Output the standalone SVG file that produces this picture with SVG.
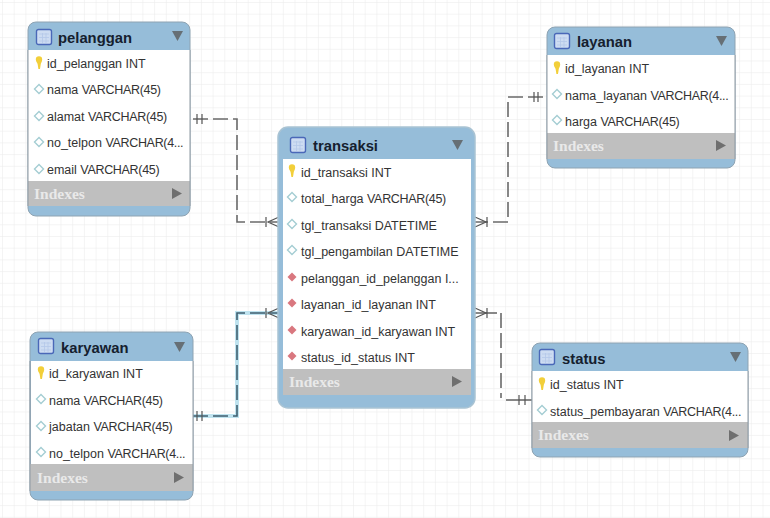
<svg xmlns="http://www.w3.org/2000/svg" width="770" height="518" viewBox="0 0 770 518">
<style>
.hd{fill:#96bdd9}
.body{fill:#fff}
.ix{fill:#bfbfbf}
.edge{fill:none;stroke:#8f9aa3;stroke-width:1}
.t{font-family:"Liberation Sans","DejaVu Sans",sans-serif;font-size:12.5px;fill:#333}
.v{letter-spacing:-.32px}
.ti{font-family:"Liberation Sans","DejaVu Sans",sans-serif;font-size:14.8px;font-weight:700;fill:#15202e}
.x{font-family:"Liberation Serif","DejaVu Serif",serif;font-size:15.5px;font-weight:700;fill:#e9e9e9}
.c{fill:none;stroke:#6a6a6a;stroke-width:1.6}
.b{stroke:#3f5f70}
.d{stroke-dasharray:15 5}
.s{fill:none;stroke:#555;stroke-width:1.2}
.g{fill:none;stroke:#bfe3ef;stroke-width:4}
</style>
<defs>
<pattern id="grid" width="11.7" height="11.7" patternUnits="userSpaceOnUse" x="2" y="2"><path d="M11.7 0H0V11.7" fill="none" stroke="#eaeaea" stroke-width="1"/></pattern>
<g id="tbl"><rect x="0.5" y="0.5" width="15" height="15" rx="2" fill="#cddcf2" stroke="#4a68b8" stroke-width="1.4"/><path d="M3 5H13M3 8.500H13M3 12H13M6.500 4V14M10 4V14" stroke="#b4c8e8" stroke-width="0.8"/></g>
<path id="dn" d="M0 0H11L5.5 10Z" fill="#666f75"/>
<path id="rt" d="M0 0L10 5.5L0 11Z" fill="#6f6f6f"/>
<path id="key" d="M-3.200 -3.500a3.200 3.200 0 0 1 6.400 0c0 2.500-1.300 3-1.500 5l-.7 4.500h-1.600l-.7-4.500c-.2-2-1.900-2.500-1.900-5Z" fill="#f2cf3a"/>
<path id="col" d="M0 -4.500L4.500 0L0 4.500L-4.500 0Z" fill="#fff" stroke="#a4cdd3" stroke-width="1.400"/>
<path id="fk" d="M0 -4.500L4.500 0L0 4.500L-4.500 0Z" fill="#d9777f"/>
</defs>
<rect width="770" height="518" fill="#fff"/>
<rect width="770" height="518" fill="url(#grid)"/>

<g id="connectors">
<path class="g" d="M193 416H237V313H279"/>
<path class="c d" d="M193 119H237V222H279"/>
<path class="c d b" d="M193 416H237V313H279"/>
<path class="c d" d="M473 222H508V97H547"/>
<path class="c" d="M473 313H497"/>
<path class="c d" d="M501 313V398"/>
<path class="c" d="M506 400H532"/>
<path class="s" d="M197 114V124M202 114V124M197 411V421M202 411V421M266 217V227M279 217L268 222L279 227M266 308V318M279 308L268 313L279 318M538 92V102M534 92V102M487 217V227M475 217L486 222L475 227M487 308V318M475 308L486 313L475 318M519 395V405M525 395V405"/>
</g>

<g id="pelanggan">
<rect class="hd" x="28" y="22" width="162" height="194" rx="8" stroke="#8ea3b2"/>
<rect class="body" x="28" y="50" width="162" height="131"/>
<rect class="ix" x="28" y="181" width="162" height="25"/>
<path class="edge" d="M28 50V206M190 50V206"/>
<use href="#tbl" x="36" y="29"/><text class="ti" x="58" y="43">pelanggan</text><use href="#dn" x="172" y="31"/>
<use href="#key" x="39" y="63"/><text class="t" x="47" y="68">id_pelanggan INT</text>
<use href="#col" x="39" y="89"/><text class="t" x="47" y="94">nama <tspan class="v">VARCHAR(45)</tspan></text>
<use href="#col" x="39" y="116"/><text class="t" x="47" y="121">alamat <tspan class="v">VARCHAR(45)</tspan></text>
<use href="#col" x="39" y="142"/><text class="t" x="47" y="147">no_telpon <tspan class="v">VARCHAR(4...</tspan></text>
<use href="#col" x="39" y="169"/><text class="t" x="47" y="174">email <tspan class="v">VARCHAR(45)</tspan></text>
<text class="x" x="34" y="199">Indexes</text><use href="#rt" x="172" y="188"/>
</g>

<g id="layanan">
<rect class="hd" x="547" y="27" width="188" height="141" rx="8" stroke="#8ea3b2"/>
<rect class="body" x="547" y="55" width="188" height="78"/>
<rect class="ix" x="547" y="133" width="188" height="26"/>
<path class="edge" d="M547 55V159M735 55V159"/>
<use href="#tbl" x="554" y="33"/><text class="ti" x="577" y="47">layanan</text><use href="#dn" x="716" y="36"/>
<use href="#key" x="557" y="68"/><text class="t" x="565" y="73">id_layanan INT</text>
<use href="#col" x="557" y="94"/><text class="t" x="565" y="100">nama_layanan <tspan class="v">VARCHAR(4...</tspan></text>
<use href="#col" x="557" y="120"/><text class="t" x="565" y="126">harga <tspan class="v">VARCHAR(45)</tspan></text>
<text class="x" x="553" y="151">Indexes</text><use href="#rt" x="716" y="140"/>
</g>

<g id="transaksi">
<rect x="278" y="127" width="197" height="281" rx="10" fill="#96bdd9" stroke="#a9c3d3" stroke-width="1.500"/>
<rect class="body" x="283" y="159" width="188" height="210"/>
<rect class="ix" x="283" y="369" width="188" height="26"/>
<use href="#tbl" x="290" y="137"/><text class="ti" x="313" y="151">transaksi</text><use href="#dn" x="452" y="140"/>
<use href="#key" x="292" y="171"/><text class="t" x="301" y="177">id_transaksi INT</text>
<use href="#col" x="292" y="197"/><text class="t" x="301" y="203">total_harga <tspan class="v">VARCHAR(45)</tspan></text>
<use href="#col" x="292" y="224"/><text class="t" x="301" y="230">tgl_transaksi DATETIME</text>
<use href="#col" x="292" y="250"/><text class="t" x="301" y="256">tgl_pengambilan DATETIME</text>
<use href="#fk" x="292" y="277"/><text class="t" x="301" y="283">pelanggan_id_pelanggan I...</text>
<use href="#fk" x="292" y="303"/><text class="t" x="301" y="309">layanan_id_layanan INT</text>
<use href="#fk" x="292" y="330"/><text class="t" x="301" y="336">karyawan_id_karyawan INT</text>
<use href="#fk" x="292" y="356"/><text class="t" x="301" y="362">status_id_status INT</text>
<text class="x" x="289" y="387">Indexes</text><use href="#rt" x="452" y="376"/>
</g>

<g id="karyawan">
<rect class="hd" x="30" y="332" width="163" height="168" rx="8" stroke="#8ea3b2"/>
<rect class="body" x="31" y="361" width="162" height="103"/>
<rect class="ix" x="30" y="464" width="163" height="27"/>
<path class="edge" d="M30 361V491M193 361V491"/>
<use href="#tbl" x="38" y="338"/><text class="ti" x="61" y="353">karyawan</text><use href="#dn" x="174" y="342"/>
<use href="#key" x="41" y="373"/><text class="t" x="49" y="378">id_karyawan INT</text>
<use href="#col" x="41" y="399"/><text class="t" x="49" y="405">nama <tspan class="v">VARCHAR(45)</tspan></text>
<use href="#col" x="41" y="426"/><text class="t" x="49" y="431">jabatan <tspan class="v">VARCHAR(45)</tspan></text>
<use href="#col" x="41" y="452"/><text class="t" x="49" y="458">no_telpon <tspan class="v">VARCHAR(4...</tspan></text>
<text class="x" x="37" y="483">Indexes</text><use href="#rt" x="174" y="472"/>
</g>

<g id="status">
<rect class="hd" x="532" y="343" width="216" height="114" rx="8" stroke="#8ea3b2"/>
<rect class="body" x="532" y="371" width="216" height="51"/>
<rect class="ix" x="532" y="422" width="216" height="26"/>
<path class="edge" d="M532 371V448M748 371V448"/>
<use href="#tbl" x="539" y="349"/><text class="ti" x="562" y="364">status</text><use href="#dn" x="730" y="352"/>
<use href="#key" x="542" y="384"/><text class="t" x="550" y="389">id_status INT</text>
<use href="#col" x="542" y="410"/><text class="t" x="550" y="416">status_pembayaran <tspan class="v">VARCHAR(4...</tspan></text>
<text class="x" x="538" y="440">Indexes</text><use href="#rt" x="729" y="430"/>
</g>
</svg>
